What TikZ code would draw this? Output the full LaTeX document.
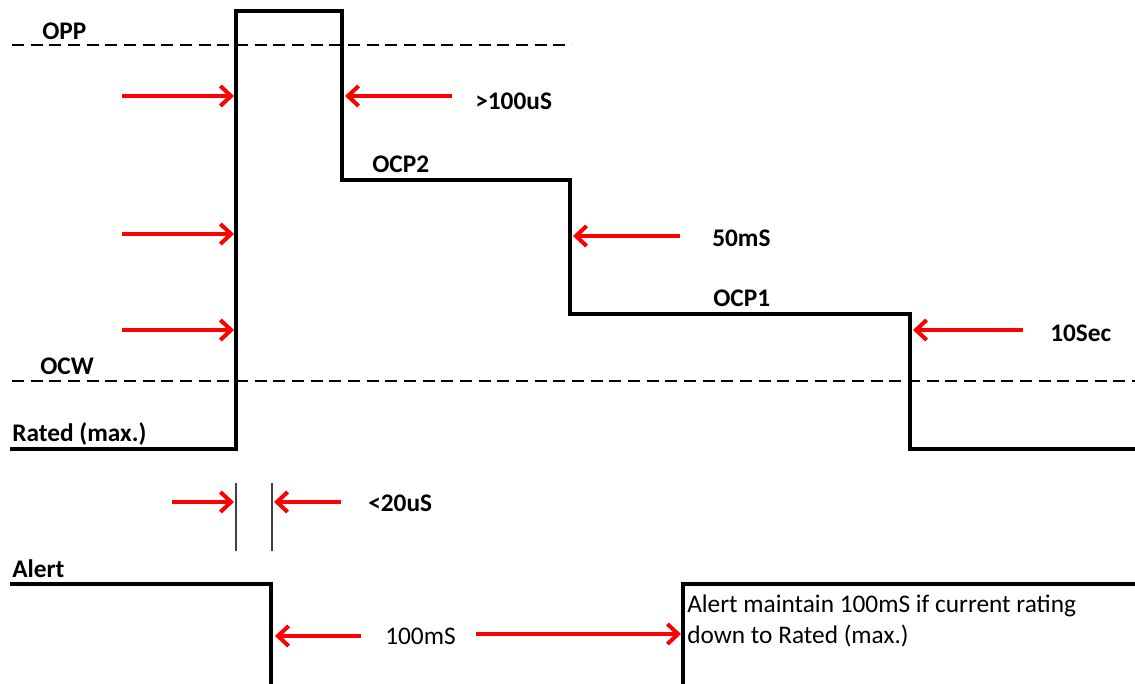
\documentclass[tikz,border=0pt]{standalone}
\usepackage{fontspec}
\setmainfont{Carlito}
\usepackage{tikz}
\usetikzlibrary{arrows.meta, positioning, calc}
\tikzset{
  level/.style={
    inner sep=0pt, anchor=west, font=\fontsize{19}{23}\selectfont\bfseries
  },
  note/.style={
    inner sep=0pt, anchor=west, font=\fontsize{19}{23}\selectfont
  },
  signal/.style={line width=2.3pt, color=black, line join=miter},
  limit/.style={line width=2.2pt, dash pattern=on 9pt off 5pt},
  marker/.style={line width=1pt, color=black!75},
  timing/.style={line width=3pt, color=red, -{Straight Barb[length=8pt, width=15pt, line width=3pt]}},
}

\begin{document}
\begin{tikzpicture}[x=0.75pt, y=-0.75pt]
  \useasboundingbox (0,0) rectangle (1135,683);

  % levels
  \node (opp)   [level] at (42,31)   {OPP};
  \node (ocw)   [level] at (40,366)  {OCW};
  \node (rated) [level] at (12,434)  {Rated (max.)};
  \node (ocpb)  [level] at (372,164) {OCP2};
  \node (ocpa)  [level] at (713,298) {OCP1};
  \node (alert) [level] at (12,569)  {Alert};

  \coordinate (oppL) at (12,45);
  \coordinate (oppR) at (572,45);
  \coordinate (ocwL) at (12,381);
  \coordinate (ocwR) at (1135,381);
  \draw [limit] (oppL) -- (oppR);
  \draw [limit] (ocwL) -- (ocwR);

  % current waveform
  \coordinate (w0) at (10,449);
  \coordinate (w1) at (236,449);
  \coordinate (w2) at (236,11);
  \coordinate (w3) at (342,11);
  \coordinate (w4) at (342,180);
  \coordinate (w5) at (570,180);
  \coordinate (w6) at (570,314);
  \coordinate (w7) at (910,314);
  \coordinate (w8) at (910,449);
  \coordinate (w9) at (1135,449);
  \draw [signal] (w0) -- (w1) -- (w2) -- (w3) -- (w4) -- (w5)
    -- (w6) -- (w7) -- (w8) -- (w9);

  % alert signal
  \coordinate (a0) at (10,584);
  \coordinate (a1) at (271,584);
  \coordinate (a2) at (271,684);
  \coordinate (b0) at (683,684);
  \coordinate (b1) at (683,584);
  \coordinate (b2) at (1136,584);
  \draw [signal] (a0) -- (a1) -- (a2);
  \draw [signal] (b0) -- (b1) -- (b2);

  % delay markers
  \coordinate (m1t) at (236,483);
  \coordinate (m1b) at (236,551);
  \coordinate (m2t) at (272,483);
  \coordinate (m2b) at (272,551);
  \draw [marker] (m1t) -- (m1b);
  \draw [marker] (m2t) -- (m2b);

  % timing arrows
  \coordinate (s1) at (122,96);  \coordinate (e1) at (234,96);
  \coordinate (s2) at (122,234); \coordinate (e2) at (234,234);
  \coordinate (s3) at (122,330); \coordinate (e3) at (234,330);
  \coordinate (s4) at (452,96);  \coordinate (e4) at (345,96);
  \coordinate (s5) at (680,236); \coordinate (e5) at (573,236);
  \coordinate (s6) at (1023,330); \coordinate (e6) at (913,330);
  \coordinate (s7) at (172,502); \coordinate (e7) at (234,502);
  \coordinate (s8) at (341,502); \coordinate (e8) at (274,502);
  \coordinate (s9) at (361,636); \coordinate (e9) at (275,636);
  \coordinate (s10) at (476,634); \coordinate (e10) at (681,634);
  \foreach \i in {1,...,10}
    \draw [timing] (s\i) -- (e\i);

  \node (t100u) [level] at (475,101) {>100uS};
  \node (t50m)  [level] at (712,238) {50mS};
  \node (t10s)  [level] at (1050,333) {10Sec};
  \node (t20u)  [level] at (368,503) {<20uS};
  \node (t100m) [note]  at (385,636) {100mS};
  \node (hold)  [note, align=left] at (687,621)
    {Alert maintain 100mS if current rating\\down to Rated (max.)};
\end{tikzpicture}
\end{document}
